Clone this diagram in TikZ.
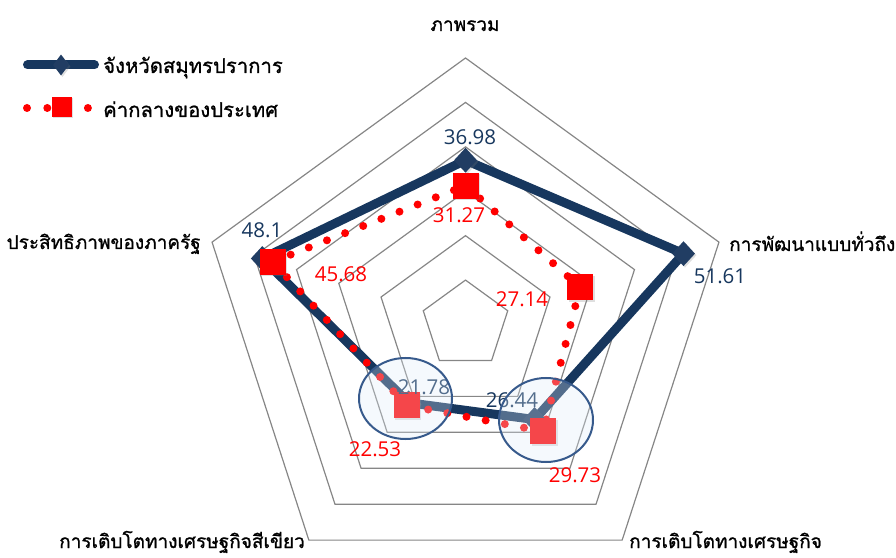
\documentclass[tikz,border=0pt]{standalone}
\usepackage{fontspec}
\setmainfont{Open Sans}
\newfontfamily\thaifont[Script=Thai, FakeBold=1]{Loma}
\usetikzlibrary{shapes.geometric,shadows}
\definecolor{provblue}{RGB}{23,55,94}
\definecolor{provmark}{RGB}{33,61,99}
\definecolor{medred}{RGB}{255,0,0}
\definecolor{gridgray}{RGB}{134,134,134}
\definecolor{ringblue}{RGB}{55,90,140}
\definecolor{ringfill}{RGB}{222,235,247}
\begin{document}
\begin{tikzpicture}[
x=1pt,
y=1pt,
gridline/.style={draw=gridgray, line width=1.2pt},
provline/.style={draw=provblue, line width=9pt, line join=round, line cap=round},
medline/.style={draw=medred, line width=8pt, line cap=round, dash pattern=on 0pt off 19.5pt},
provdot/.style={diamond, fill=provmark, minimum width=23pt, minimum height=25pt, inner sep=0pt, drop shadow={shadow xshift=1.5pt, shadow yshift=-1.5pt, opacity=0.25}},
meddot/.style={rectangle, fill=medred, minimum size=26pt, inner sep=0pt, drop shadow={shadow xshift=1.5pt, shadow yshift=-1.5pt, opacity=0.25}},
provlab/.style={text=provblue, font=\fontsize{20.5}{24}\selectfont, inner sep=0pt},
medlab/.style={text=medred, font=\fontsize{20.5}{24}\selectfont, inner sep=0pt},
axislab/.style={font=\thaifont\fontsize{19}{22}\selectfont, anchor=base, inner sep=0pt},
legendlab/.style={font=\thaifont\fontsize{20.3}{24}\selectfont, anchor=base west, inner sep=0pt},
ring/.style={ellipse, draw=ringblue, line width=2pt, fill=ringfill, fill opacity=0.3, inner sep=0pt},
]
\useasboundingbox (0,0) rectangle (896,557);
\begin{scope}[shift={(465.5,232.5)}, x=4.4417pt, y=4.4417pt]
\foreach \r in {10,20,...,60}
{
 \draw[gridline] (90:\r) -- (18:\r) -- (-54:\r) -- (-126:\r) -- (162:\r) -- cycle;
}
\foreach \n/\a/\p/\m in {1/90/36.98/31.27, 2/18/51.61/27.14, 3/-54/26.44/29.73, 4/-126/21.78/22.53, 5/162/48.1/45.68}
{
 \coordinate (p\n) at (\a:\p);
 \coordinate (m\n) at (\a:\m);
}
\end{scope}
\draw[provline] (p1) -- (p2) -- (p3) -- (p4) -- (p5) -- cycle;
\foreach \i/\j in {1/2,2/3,3/4,4/5,5/1}
{
 \draw[medline] (m\i) -- (m\j);
}
\foreach \n in {1,...,5}
{
 \node[provdot] (pd\n) at (p\n) {};
}
\foreach \n in {1,...,5}
{
 \node[meddot] (md\n) at (m\n) {};
}
\foreach \n/\x/\y/\t in {1/470/420/36.98, 2/720/281/51.61, 3/512/157/26.44, 4/424/170/21.78, 5/262/327/48.1}
{
 \node[provlab] (pl\n) at (\x,\y) {\t};
}
\foreach \n/\x/\y/\t in {1/459/342/31.27, 2/522/258/27.14, 3/575/82/29.73, 4/375/108/22.53, 5/341/283/45.68}
{
 \node[medlab] (ml\n) at (\x,\y) {\t};
}
\node[ring, minimum width=93pt, minimum height=81pt] (ringa) at (405.5,158.5) {};
\node[ring, minimum width=94pt, minimum height=84pt] (ringb) at (546,137) {};
\node[axislab] (ax1) at (465,526) {ภาพรวม};
\node[axislab, anchor=base west] (ax2) at (729,306) {การพัฒนาแบบทั่วถึง};
\node[axislab, anchor=base west] (ax3) at (629,9) {การเติบโตทางเศรษฐกิจ};
\node[axislab] (ax4) at (182,9) {การเติบโตทางเศรษฐกิจสีเขียว};
\node[axislab, anchor=base east] (ax5) at (201,308) {ประสิทธิภาพของภาครัฐ};
\coordinate (lga) at (27.5,492);
\coordinate (lgb) at (94.5,492);
\draw[provline] (lga) -- (lgb);
\node[provdot, minimum width=16pt, minimum height=21pt] (lgd) at (61,492) {};
\node[legendlab] (lgt1) at (103,484) {จังหวัดสมุทรปราการ};
\coordinate (lgc) at (27,449);
\coordinate (lge) at (88,449);
\draw[medline, dash pattern=on 0pt off 20.3pt] (lgc) -- (lge);
\node[meddot, minimum size=20pt] (lgs) at (61.5,450) {};
\node[legendlab] (lgt2) at (103,440) {ค่ากลางของประเทศ};
\end{tikzpicture}
\end{document}
